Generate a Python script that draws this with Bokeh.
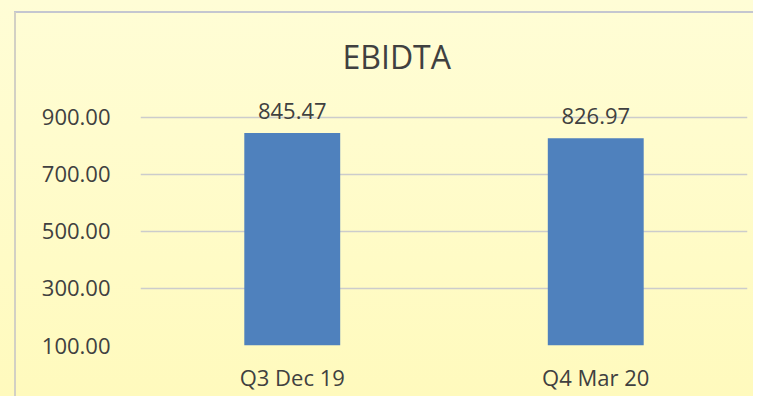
from bokeh.plotting import figure
from bokeh.models import FixedTicker, Range1d, FactorRange, ColumnDataSource
from bokeh.core.properties import value
from bokeh.embed import file_html
from bokeh.resources import INLINE

categories = ["Q3 Dec 19", "Q4 Mar 20"]
ebidta = [845.47, 826.97]
value_labels = ["845.47", "826.97"]
y_ticks = [100, 300, 500, 700, 900]
y_tick_labels = ["100.00", "300.00", "500.00", "700.00", "900.00"]

FONT = "Open Sans"
TXT = "#404040"

source = ColumnDataSource(dict(cat=categories, val=ebidta, lab=value_labels))

p = figure(
    width=753, height=396,
    x_range=FactorRange(*categories, range_padding=0),
    y_range=Range1d(100, 1012),
    output_backend="svg", toolbar_location=None,
    min_border_left=140, min_border_right=6, min_border_top=85, min_border_bottom=51,
)
p.styles = {
    "background": (
        "linear-gradient(#d2d0c4, #d2d0c4) 14px 12px / 2px 100% no-repeat, "
        "linear-gradient(#c4c6d0, #c4c6d0) 14px 11px / 100% 2px no-repeat, "
        "linear-gradient(#fffdd6, #fffabd)"
    )
}
p.background_fill_alpha = 0
p.border_fill_alpha = 0
p.outline_line_color = None

p.title.text = "EBIDTA"
p.title.align = "left"
p.title.offset = 202
p.title.text_font = FONT
p.title.text_font_size = "32px"
p.title.text_font_style = "normal"
p.title.text_color = TXT
p.title.standoff = 16

p.vbar(x="cat", top="val", bottom=100, width=0.316, source=source,
       fill_color="#4F81BD", line_color=None)
p.text(x="cat", y="val", text="lab", source=source, y_offset=-22,
       text_align="center", text_baseline="alphabetic",
       text_font=value(FONT), text_font_size="22px", text_color=TXT)

p.xgrid.grid_line_color = None
p.ygrid.grid_line_color = "#cccccc"
p.ygrid.grid_line_width = 1.5
p.yaxis.ticker = FixedTicker(ticks=y_ticks)
p.yaxis.major_label_overrides = {t: l for t, l in zip(y_ticks, y_tick_labels)}

for ax in (p.xaxis[0], p.yaxis[0]):
    ax.axis_line_color = None
    ax.major_tick_line_color = None
    ax.minor_tick_line_color = None
    ax.major_tick_out = 0
    ax.major_tick_in = 0
    ax.major_label_text_font = FONT
    ax.major_label_text_font_size = "22px"
    ax.major_label_text_color = TXT
p.yaxis.major_label_standoff = 30
p.xaxis.major_label_standoff = 16

open("out.html", "w").write(file_html(p, INLINE))
